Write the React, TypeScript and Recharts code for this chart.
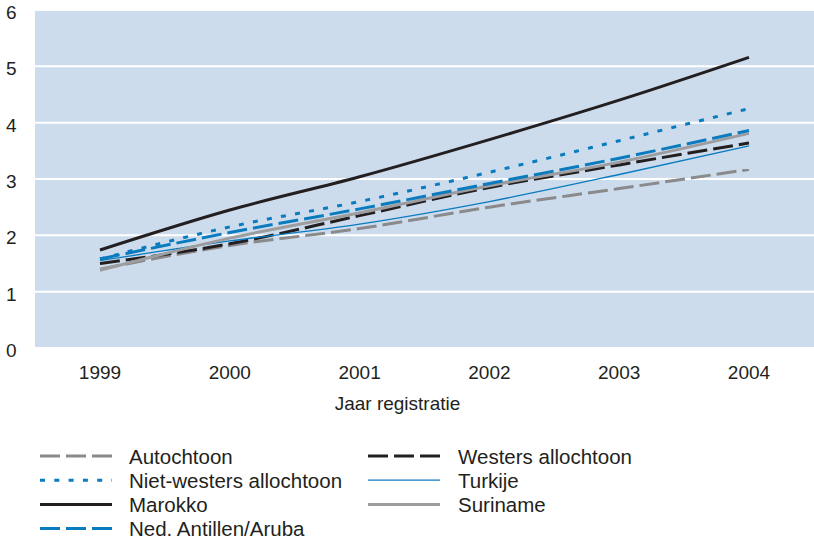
import React from "react";
import { LineChart, Line, XAxis, YAxis, CartesianGrid, Legend } from "recharts";

const years = ["1999", "2000", "2001", "2002", "2003", "2004"];
const autochtoon = [1.4, 1.82, 2.12, 2.5, 2.83, 3.17];
const westers = [1.5, 1.85, 2.35, 2.85, 3.25, 3.64];
const nietWesters = [1.58, 2.15, 2.6, 3.12, 3.68, 4.25];
const turkije = [1.55, 1.9, 2.2, 2.6, 3.08, 3.59];
const marokko = [1.74, 2.45, 3.04, 3.7, 4.4, 5.16];
const suriname = [1.38, 1.95, 2.4, 2.88, 3.3, 3.81];
const antillen = [1.58, 2.05, 2.47, 2.92, 3.37, 3.86];
const yTicks = [0, 1, 2, 3, 4, 5, 6];

const data = years.map((y, i) => ({
  year: y,
  autochtoon: autochtoon[i],
  westers: westers[i],
  nietWesters: nietWesters[i],
  turkije: turkije[i],
  marokko: marokko[i],
  suriname: suriname[i],
  antillen: antillen[i],
}));

const BLACK = "#231f20";
const BLUE = "#0b7bbf";
const GREY = "#8a8a8c";
const LIGHTGREY = "#9d9d9f";
const FONT = "'Liberation Sans', Arial, sans-serif";

const series = [
  { key: "autochtoon", name: "Autochtoon", color: GREY, width: 3, dash: "20 6" },
  { key: "westers", name: "Westers allochtoon", color: BLACK, width: 3, dash: "20 6" },
  { key: "nietWesters", name: "Niet-westers allochtoon", color: BLUE, width: 3, dash: "5 9.3" },
  { key: "turkije", name: "Turkije", color: BLUE, width: 1.3, dash: undefined },
  { key: "marokko", name: "Marokko", color: BLACK, width: 3, dash: undefined },
  { key: "suriname", name: "Suriname", color: LIGHTGREY, width: 3, dash: undefined },
  { key: "antillen", name: "Ned. Antillen/Aruba", color: BLUE, width: 3, dash: "20 6" },
];

function LegendBox() {
  return (
    <svg width={814} height={125} style={{ display: "block" }}>
      {series.map((s, i) => {
        const col = i % 2;
        const row = Math.floor(i / 2);
        const x0 = col === 0 ? 40 : 368;
        const y = 36 + row * 24.2;
        return (
          <g key={s.key}>
            <line x1={x0} x2={x0 + 72} y1={y} y2={y} stroke={s.color} strokeWidth={s.width} strokeDasharray={s.dash} />
            <text x={col === 0 ? 129 : 458} y={y + 7.5} fontSize={20.5} fill={BLACK} fontFamily={FONT}>
              {s.name}
            </text>
          </g>
        );
      })}
    </svg>
  );
}

const YTick = (props: any) => {
  const { y, payload } = props;
  return (
    <text x={6} y={y + 9} fontSize={19} fill={BLACK} fontFamily={FONT} textAnchor="start">
      {payload.value}
    </text>
  );
};

export default function App() {
  return (
    <div style={{ position: "absolute", left: 0, top: 0, width: 814, height: 545, background: "#fff" }}>
      <LineChart width={814} height={545} data={data} margin={{ top: 10, right: 0, left: 0, bottom: 0 }}>
        <CartesianGrid horizontal vertical={false} stroke="#ffffff" strokeWidth={2} fill="#cddcec" />
        <XAxis
          dataKey="year"
          height={72}
          padding={{ left: 65, right: 65 }}
          axisLine={false}
          tickLine={false}
          tick={{ fontSize: 19, fill: BLACK, fontFamily: FONT }}
          tickMargin={12}
          label={{ value: "Jaar registratie", position: "insideBottom", offset: 10, dx: -27, fontSize: 19, fill: BLACK, fontFamily: FONT }}
        />
        <YAxis
          width={35}
          domain={[0, 6]}
          ticks={yTicks}
          axisLine={false}
          tickLine={false}
          tick={<YTick />}
        />
        {series.map((s) => (
          <Line
            key={s.key}
            dataKey={s.key}
            name={s.name}
            type="monotone"
            stroke={s.color}
            strokeWidth={s.width}
            strokeDasharray={s.dash}
            dot={false}
            activeDot={false}
            isAnimationActive={false}
          />
        ))}
        <Legend verticalAlign="bottom" height={125} content={() => <LegendBox />} wrapperStyle={{ left: 0, bottom: 0, width: 814 }} />
      </LineChart>
    </div>
  );
}
